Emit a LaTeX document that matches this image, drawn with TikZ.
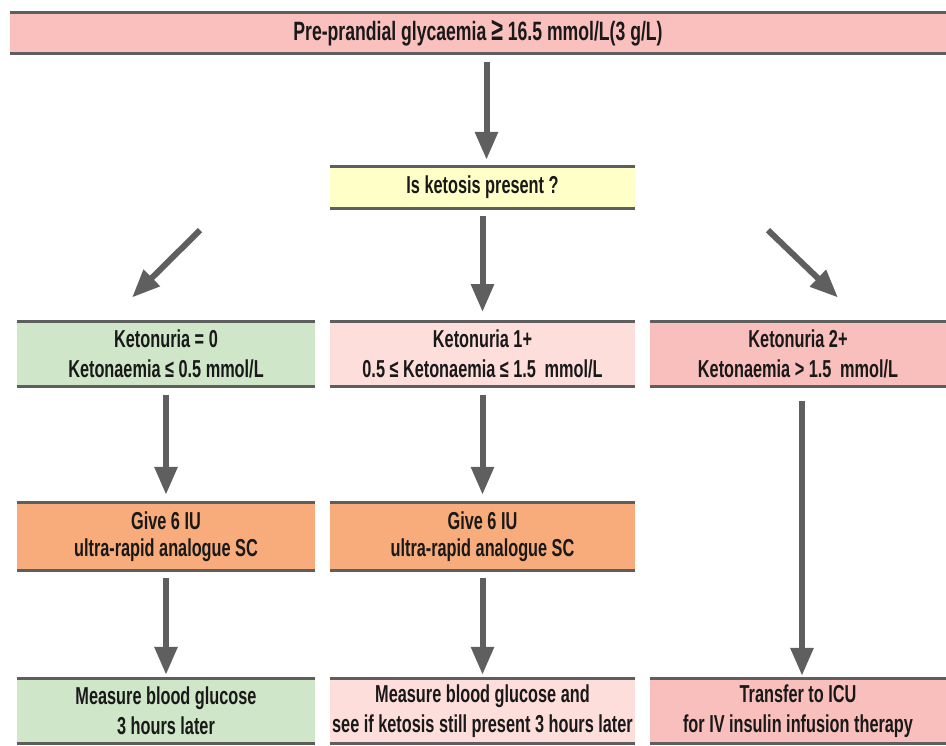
\documentclass[tikz,border=0pt]{standalone}
\usepackage{fontspec}
\usepackage{tikz}
\usetikzlibrary{arrows.meta,positioning}
\newfontfamily\dinfont[FakeStretch=0.665]{Liberation Sans}
\definecolor{rulegray}{HTML}{5E5E5E}
\definecolor{arrowgray}{HTML}{5F5F5F}
\definecolor{toppink}{HTML}{F9C0BD}
\definecolor{askyellow}{HTML}{FFFFC8}
\definecolor{nogreen}{HTML}{D0E6C9}
\definecolor{lowpink}{HTML}{FDDEDA}
\definecolor{highpink}{HTML}{F8BFBC}
\definecolor{doseorange}{HTML}{F8AB7B}

\tikzset{
	panel/.style={inner sep=0pt, align=center, text=black!90,
		font=\dinfont\bfseries\fontsize{24.5}{30}\selectfont},
	rowtwo/.style={panel, minimum height=65.5pt},
	arr/.style={draw=arrowgray, line width=6pt,
		-{Triangle[length=28pt,width=22pt]}, shorten <=8pt, shorten >=7pt},
	rule/.style={draw=rulegray, line width=3pt}
}

\begin{document}
\begin{tikzpicture}[x=1pt, y=1pt]
	\useasboundingbox (0,0) rectangle (946,746);

	\node (top) [panel, fill=toppink, minimum width=936pt, minimum height=40pt,
		font=\dinfont\bfseries\fontsize{26.5}{30}\selectfont] at (478,713)
		{Pre-prandial glycaemia {\fontsize{32}{30}\selectfont ≥} 16.5 mmol/L(3 g/L)};
	\node (ketosis) [panel, fill=askyellow, minimum width=305pt, minimum height=41pt] at (482.5,558.5)
		{Is ketosis present ?};

	\node (k0) [rowtwo, fill=nogreen, minimum width=298pt] at (166,392)
		{Ketonuria = 0\\Ketonaemia ≤ 0.5 mmol/L};
	\node (k1) [rowtwo, fill=lowpink, minimum width=305pt] at (482.5,392)
		{Ketonuria 1+\\0.5 ≤ Ketonaemia ≤ 1.5\, mmol/L};
	\node (k2) [rowtwo, fill=highpink, minimum width=296pt] at (798,392)
		{Ketonuria 2+\\Ketonaemia > 1.5\, mmol/L};

	\node (give0) [panel, fill=doseorange, minimum width=298pt, minimum height=67pt,
		font=\dinfont\bfseries\fontsize{24.5}{27}\selectfont] at (166,209.5)
		{Give 6 IU\\ultra-rapid analogue SC};
	\node (give1) [panel, fill=doseorange, minimum width=305pt, minimum height=67pt,
		font=\dinfont\bfseries\fontsize{24.5}{27}\selectfont] at (482.5,209.5)
		{Give 6 IU\\ultra-rapid analogue SC};

	\node (meas0) [rowtwo, fill=nogreen, minimum width=298pt, minimum height=64pt] at (166,35)
		{Measure blood glucose\\3 hours later};
	\node (meas1) [rowtwo, fill=lowpink, minimum width=305pt, minimum height=64pt] at (482.5,35)
		{Measure blood glucose and\\see if ketosis still present 3 hours later};
	\node (icu) [rowtwo, fill=highpink, minimum width=296pt, minimum height=64pt] at (798,35)
		{Transfer to ICU\\for IV insulin infusion therapy};

	% top and bottom rules of every box
	\foreach \n in {top,ketosis,k0,k1,k2,give0,give1,meas0,meas1,icu}
		\draw[rule] (\n.north west) -- (\n.north east) (\n.south west) -- (\n.south east);

	% arrows
	\draw[arr, shorten <=9pt] ([xshift=4pt]top.south -| ketosis) -- ([xshift=4pt]ketosis.north);
	\draw[arr, shorten >=9pt] (ketosis) -- (k1);
	\draw[arr, shorten <=0pt, shorten >=0pt] ([shift={(-282.5,-22)}]ketosis.south) -- ([shift={(-34,23.5)}]k0.north);
	\draw[arr, shorten <=0pt, shorten >=0pt] ([shift={(285.5,-22)}]ketosis.south) -- ([shift={(40,23.5)}]k2.north);
	\draw[arr, shorten >=8pt] (k0) -- (give0);
	\draw[arr, shorten >=8pt] (k1) -- (give1);
	\draw[arr, shorten <=14pt, shorten >=3pt] ([xshift=4pt]k2.south) -- ([xshift=4pt]icu.north);
	\draw[arr, shorten >=4pt] (give0) -- (meas0);
	\draw[arr, shorten >=4pt] (give1) -- (meas1);
\end{tikzpicture}
\end{document}
